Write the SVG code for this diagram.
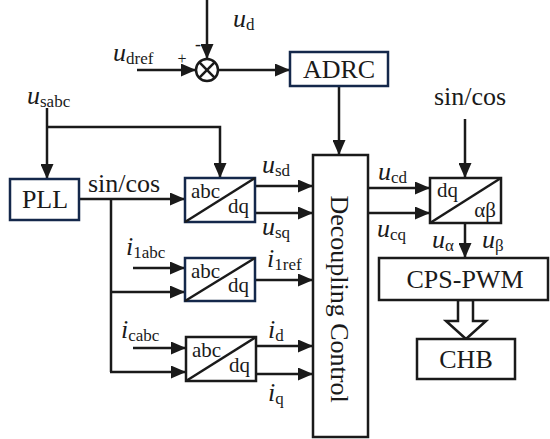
<svg xmlns="http://www.w3.org/2000/svg" width="550" height="439" viewBox="0 0 550 439" font-family="'Liberation Serif', 'Times New Roman', serif">
<defs>
<marker id="ah" markerUnits="userSpaceOnUse" markerWidth="15" markerHeight="13" refX="15" refY="6.5" orient="auto">
<path d="M0,0 L15,6.5 L0,13 z" fill="#1a1a1a"/>
</marker>
<style>
text,tspan{font-family:"Liberation Serif","Times New Roman",serif}
text{fill:#1a1a1a}
.big{font-size:26px}
.blk{font-size:21px}
.v{font-size:26px;font-style:italic}
.s{font-size:17px;font-style:normal}
.box{fill:#fff;stroke:#1a1a1a;stroke-width:2.5}
.nav{fill:#fff;stroke:#14284b;stroke-width:2.5}
.ln{fill:none;stroke:#1a1a1a;stroke-width:2.5}
.ar{fill:none;stroke:#1a1a1a;stroke-width:2.5;marker-end:url(#ah)}
</style>
</defs>
<g id="connectors">
<line class="ar" x1="207" y1="0" x2="207" y2="59"/>
<line class="ar" x1="137" y1="70" x2="196" y2="70"/>
<line class="ar" x1="218" y1="70" x2="290" y2="70"/>
<line class="ar" x1="339" y1="86" x2="339" y2="155"/>
<line class="ar" x1="47" y1="108" x2="47" y2="179"/>
<polyline class="ar" points="47,127 220,127 220,178"/>
<line class="ar" x1="79" y1="199" x2="185" y2="199"/>
<polyline class="ln" points="111,199 111,372"/>
<line class="ar" x1="111" y1="292" x2="185" y2="292"/>
<line class="ar" x1="110" y1="372" x2="186" y2="372"/>
<line class="ar" x1="133" y1="268" x2="185" y2="268"/>
<line class="ar" x1="133" y1="348" x2="186" y2="348"/>
<line class="ar" x1="255" y1="186" x2="313" y2="186"/>
<line class="ar" x1="255" y1="213" x2="313" y2="213"/>
<line class="ar" x1="255" y1="280" x2="313" y2="280"/>
<line class="ar" x1="256" y1="346" x2="313" y2="346"/>
<line class="ar" x1="256" y1="374" x2="313" y2="374"/>
<line class="ar" x1="368" y1="188" x2="430" y2="188"/>
<line class="ar" x1="368" y1="213" x2="430" y2="213"/>
<line class="ar" x1="465" y1="119" x2="465" y2="178"/>
<line class="ar" x1="465" y1="223" x2="465" y2="258"/>
<polygon points="458,300 473,300 473,321 486,321 466,339 446,321 458,321" fill="#fff" stroke="#1a1a1a" stroke-width="2.5" stroke-linejoin="miter"/>
</g>
<g id="sum">
<circle cx="207" cy="70" r="11" fill="#fff" stroke="#1a1a1a" stroke-width="2.5"/>
<line class="ln" x1="199.2" y1="62.2" x2="214.8" y2="77.8"/>
<line class="ln" x1="214.8" y1="62.2" x2="199.2" y2="77.8"/>
<text x="182" y="64" font-size="16" text-anchor="middle">+</text>
<text x="198" y="50" font-size="18" text-anchor="middle">-</text>
</g>
<g id="adrc">
<rect class="nav" x="290" y="52" width="98" height="34"/>
<text class="big" x="339" y="78" text-anchor="middle">ADRC</text>
</g>
<g id="pll">
<rect class="nav" x="10" y="179" width="69" height="41"/>
<text class="big" x="45" y="208" text-anchor="middle">PLL</text>
</g>
<g id="abcdq1">
<rect class="nav" x="185" y="178" width="70" height="44"/>
<line class="ln" x1="185" y1="222" x2="255" y2="178"/>
<text class="blk" x="191" y="198">abc</text>
<text class="blk" x="249" y="213" text-anchor="end">dq</text>
</g>
<g id="abcdq2">
<rect class="nav" x="185" y="258" width="70" height="43"/>
<line class="ln" x1="185" y1="301" x2="255" y2="258"/>
<text class="blk" x="191" y="278">abc</text>
<text class="blk" x="249" y="292" text-anchor="end">dq</text>
</g>
<g id="abcdq3">
<rect class="box" x="186" y="337" width="70" height="44"/>
<line class="ln" x1="186" y1="381" x2="256" y2="337"/>
<text class="blk" x="192" y="357">abc</text>
<text class="blk" x="250" y="372" text-anchor="end">dq</text>
</g>
<g id="decoupling">
<rect class="box" x="313" y="155" width="55" height="282"/>
<text class="big" transform="translate(340,299) rotate(90)" text-anchor="middle" dy="9">Decoupling Control</text>
</g>
<g id="dqab">
<rect class="box" x="430" y="178" width="71" height="45"/>
<line class="ln" x1="430" y1="223" x2="501" y2="178"/>
<text class="blk" x="437" y="197">dq</text>
<text class="blk" x="496" y="217" text-anchor="end">αβ</text>
</g>
<g id="cpspwm">
<rect class="box" x="379" y="258" width="169" height="42"/>
<text class="big" x="465" y="288" text-anchor="middle">CPS-PWM</text>
</g>
<g id="chb">
<rect class="box" x="417" y="339" width="98" height="40"/>
<text class="big" x="466" y="368" text-anchor="middle">CHB</text>
</g>
<g id="labels">
<text x="233" y="27"><tspan class="v">u</tspan><tspan class="s" dy="3">d</tspan></text>
<text x="113" y="61"><tspan class="v">u</tspan><tspan class="s" dy="3">dref</tspan></text>
<text x="27" y="104"><tspan class="v">u</tspan><tspan class="s" dy="3">sabc</tspan></text>
<text class="big" x="88" y="192">sin/cos</text>
<text class="big" x="470" y="105" text-anchor="middle">sin/cos</text>
<text x="262" y="173"><tspan class="v">u</tspan><tspan class="s" dy="3">sd</tspan></text>
<text x="262" y="235"><tspan class="v">u</tspan><tspan class="s" dy="3">sq</tspan></text>
<text x="126" y="255"><tspan class="v">i</tspan><tspan class="s" dy="3">1abc</tspan></text>
<text x="267" y="267"><tspan class="v">i</tspan><tspan class="s" dy="3">1ref</tspan></text>
<text x="121" y="338"><tspan class="v">i</tspan><tspan class="s" dy="3">cabc</tspan></text>
<text x="268" y="338"><tspan class="v">i</tspan><tspan class="s" dy="3">d</tspan></text>
<text x="268" y="401"><tspan class="v">i</tspan><tspan class="s" dy="3">q</tspan></text>
<text x="378" y="180"><tspan class="v">u</tspan><tspan class="s" dy="3">cd</tspan></text>
<text x="377" y="237"><tspan class="v">u</tspan><tspan class="s" dy="3">cq</tspan></text>
<text x="432" y="248"><tspan class="v">u</tspan><tspan class="s" dy="3">α</tspan></text>
<text x="482" y="248"><tspan class="v">u</tspan><tspan class="s" dy="3">β</tspan></text>
</g>
</svg>
